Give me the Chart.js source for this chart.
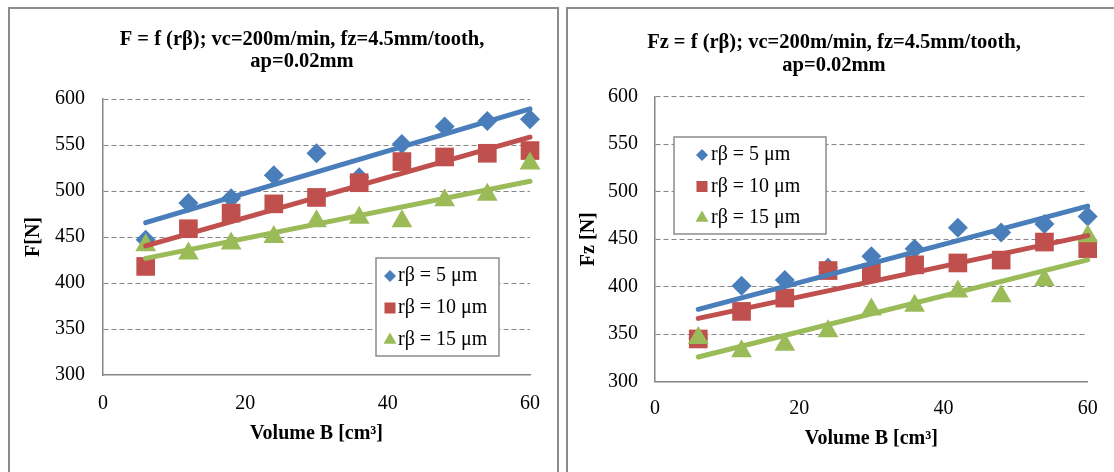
<!DOCTYPE html>
<html>
<head>
<meta charset="utf-8">
<script src="https://cdn.jsdelivr.net/npm/chart.js@4.4.0/dist/chart.umd.min.js"></script>
<style>
    html, body { margin: 0; padding: 0; background: #fff; }
    body { width: 1114px; height: 472px; position: relative; overflow: hidden; }
    .panel { position: absolute; border: 2px solid #8c8c8c; box-sizing: border-box; }
    #panel-f { left: 8px; top: 7px; width: 551px; height: 480px; }
    #panel-fz { left: 566px; top: 7px; width: 560px; height: 480px; }
    canvas { position: absolute; }
    #chart-f { left: 10px; top: 9px; }
    #chart-fz { left: 568px; top: 9px; }
</style>
</head>
<body>
<div class="panel" id="panel-f"></div>
<div class="panel" id="panel-fz"></div>
<canvas id="chart-f" width="547" height="463"></canvas>
<canvas id="chart-fz" width="546" height="463"></canvas>

<script>
// Values
const volume = [6, 12, 18, 24, 30, 36, 42, 48, 54, 60];      // Volume B [cm³]
const seriesLabels = ['rβ = 5 μm', 'rβ = 10 μm', 'rβ = 15 μm'];

// F [N]
const forceR5  = [447, 487, 492, 517, 541, 515, 551, 570, 576, 578];
const forceR10 = [418, 459, 476, 486, 493, 509, 532, 537, 541, 544];
const forceR15 = [441, 432, 443, 450, 467, 471, 467, 490, 496, 530];

// Fz [N]
const fzR5  = [346, 401, 407, 420, 432, 440, 462, 457, 466, 474];
const fzR10 = [345, 374, 388, 417, 415, 423, 425, 428, 447, 440];
const fzR15 = [346, 332, 339, 353, 376, 380, 395, 390, 407, 453];

const xTicks = [0, 20, 40, 60];
const yTicks = [300, 350, 400, 450, 500, 550, 600];

const seriesColors = ['#4a7ebb', '#c0504d', '#9bbb59'];
const markerStyles = ['rectRot', 'rect', 'triangle'];
const markerRadius = [10, 13.2, 12];
const legendRadius = [6, 7.8, 7.5];

const serif = '"Liberation Serif", "Times New Roman", serif';
const axisGray = '#868686';

Chart.defaults.font.family = serif;
Chart.defaults.font.size = 20;
Chart.defaults.color = '#000';

// Excel style linear trendline, least squares over the points
function trendPoints(xs, ys) {
    const n = xs.length;
    const mx = xs.reduce((a, b) => a + b, 0) / n;
    const my = ys.reduce((a, b) => a + b, 0) / n;
    let sxy = 0, sxx = 0;
    xs.forEach((x, i) => {
        sxy += (x - mx) * (ys[i] - my);
        sxx += (x - mx) * (x - mx);
    });
    const k = sxy / sxx;
    return [xs[0], xs[n - 1]].map(x => ({ x: x, y: my + k * (x - mx) }));
}

// chart title + boxed legend, drawn on top like Excel does
const panelDecor = {
    id: 'panelDecor',
    afterDraw(chart, args, opts) {
        const ctx = chart.ctx;
        const ca = chart.chartArea;
        ctx.save();

        ctx.font = 'bold 20.5px ' + serif;
        ctx.fillStyle = '#000';
        ctx.textAlign = 'center';
        ctx.textBaseline = 'middle';
        opts.title.forEach((line, i) => ctx.fillText(line, opts.titleX, opts.titleY + i * 22.5));

        const lg = opts.legend;
        const bx = ca.left + lg.dx;
        const by = ca.top + lg.dy;
        ctx.fillStyle = '#fff';
        ctx.fillRect(bx, by, lg.w, lg.h);
        ctx.strokeStyle = '#8c8c8c';
        ctx.lineWidth = 1.5;
        ctx.strokeRect(bx, by, lg.w, lg.h);

        ctx.font = '20px ' + serif;
        ctx.textAlign = 'left';
        seriesLabels.forEach((label, i) => {
            const cy = by + lg.firstRow + i * lg.rowGap;
            ctx.fillStyle = seriesColors[i];
            Chart.helpers.drawPoint(ctx, { pointStyle: markerStyles[i], radius: legendRadius[i], borderWidth: 0 }, bx + lg.markerX, cy);
            ctx.fillStyle = '#000';
            ctx.fillText(label, bx + lg.textX, cy);
        });
        ctx.restore();
    }
};

function makeChart(canvasId, series, cfg) {
    const datasets = [];
    // trendlines on top (lower order is drawn last)
    series.forEach((ys, i) => {
        datasets.push({
            label: seriesLabels[i],
            data: volume.map((x, j) => ({ x: x, y: ys[j] })),
            pointStyle: markerStyles[i],
            pointRadius: markerRadius[i],
            pointBackgroundColor: seriesColors[i],
            pointBorderWidth: 0,
            showLine: false,
            clip: false,
            order: 10 - i
        });
        datasets.push({
            label: seriesLabels[i] + ' trend',
            data: trendPoints(volume, ys),
            showLine: true,
            borderColor: seriesColors[i],
            borderWidth: 5,
            borderCapStyle: 'round',
            pointRadius: 0,
            clip: false,
            order: 3 - i
        });
    });

    return new Chart(document.getElementById(canvasId), {
        type: 'scatter',
        data: { datasets: datasets },
        options: {
            responsive: false,
            animation: false,
            events: [],
            layout: { padding: { left: 0, top: cfg.top, right: cfg.right, bottom: 0 } },
            scales: {
                x: {
                    type: 'linear',
                    min: xTicks[0],
                    max: xTicks[xTicks.length - 1],
                    afterFit: s => { s.height = cfg.xAxisHeight; },
                    ticks: { stepSize: xTicks[1] - xTicks[0], padding: cfg.xTickPad, font: { size: 20 } },
                    grid: { display: false, drawTicks: false },
                    border: { display: true, color: axisGray, width: 1.5 },
                    title: {
                        display: true,
                        text: 'Volume B [cm³]',
                        font: { size: 20, weight: 'bold' },
                        padding: { top: 0, bottom: cfg.xTitlePad }
                    }
                },
                y: {
                    min: yTicks[0],
                    max: yTicks[yTicks.length - 1],
                    afterFit: s => { s.width = cfg.yAxisWidth; },
                    ticks: { stepSize: yTicks[1] - yTicks[0], padding: cfg.yTickPad, font: { size: 20 } },
                    grid: {
                        drawTicks: false,
                        lineWidth: 1,
                        color: c => (c.tick && c.tick.value === yTicks[0]) ? 'rgba(0,0,0,0)' : axisGray
                    },
                    border: { display: true, color: axisGray, width: 1.5, dash: [5, 3] },
                    title: {
                        display: true,
                        text: cfg.yTitle,
                        font: { size: 20, weight: 'bold' },
                        padding: { top: cfg.yTitlePad, bottom: 0 }
                    }
                }
            },
            plugins: {
                legend: { display: false },
                tooltip: { enabled: false },
                title: { display: false },
                panelDecor: {
                    title: cfg.title,
                    titleX: cfg.titleX,
                    titleY: cfg.titleY,
                    legend: cfg.legend
                }
            }
        },
        plugins: [panelDecor]
    });
}

makeChart('chart-f', [forceR5, forceR10, forceR15], {
    title: ['F = f (rβ); vc=200m/min, fz=4.5mm/tooth,', 'ap=0.02mm'],
    titleX: 292, titleY: 30.5,
    yTitle: 'F[N]',
    top: 90, right: 24,
    yAxisWidth: 93, xAxisHeight: 97,
    yTickPad: 18, xTickPad: 17,
    yTitlePad: 12, xTitlePad: 26,
    legend: { dx: 273, dy: 159, w: 123, h: 98, firstRow: 18, rowGap: 32, markerX: 14, textX: 22 }
});

makeChart('chart-fz', [fzR5, fzR10, fzR15], {
    title: ['Fz = f (rβ); vc=200m/min, fz=4.5mm/tooth,', 'ap=0.02mm'],
    titleX: 266, titleY: 34,
    yTitle: 'Fz [N]',
    top: 87.7, right: 26.3,
    yAxisWidth: 87, xAxisHeight: 90.3,
    yTickPad: 17, xTickPad: 15.5,
    yTitlePad: 9, xTitlePad: 21,
    legend: { dx: 19, dy: 40.3, w: 152, h: 97, firstRow: 18, rowGap: 31.5, markerX: 28, textX: 37 }
});
</script>
</body>
</html>
